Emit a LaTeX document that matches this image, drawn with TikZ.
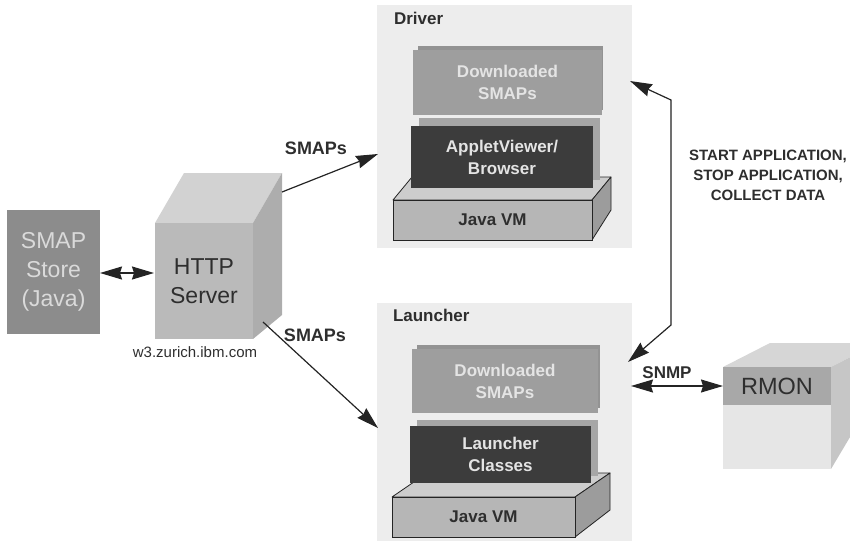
\documentclass[tikz,border=0pt]{standalone}
\usepackage{fontspec}
\setmainfont{Liberation Sans}
\usetikzlibrary{arrows.meta,calc}
\definecolor{linec}{HTML}{242424}
\definecolor{textc}{HTML}{2E2E2E}
\definecolor{panelc}{HTML}{EDEDED}
\definecolor{storec}{HTML}{8C8C8C}
\definecolor{storetext}{HTML}{DADADA}
\definecolor{httpfront}{HTML}{BABABA}
\definecolor{httptop}{HTML}{D2D2D2}
\definecolor{httpright}{HTML}{ADADAD}
\definecolor{dlc}{HTML}{9E9E9E}
\definecolor{dlback}{HTML}{939393}
\definecolor{darkc}{HTML}{3C3C3C}
\definecolor{darkback}{HTML}{A6A6A6}
\definecolor{lighttext}{HTML}{E4E4E4}
\definecolor{vmfront}{HTML}{B6B6B6}
\definecolor{vmtop}{HTML}{CDCDCD}
\definecolor{vmright}{HTML}{9C9C9C}
\definecolor{rmonband}{HTML}{A8A8A8}
\definecolor{rmonlow}{HTML}{E6E6E6}
\definecolor{rmontop}{HTML}{D6D6D6}
\definecolor{rmonright}{HTML}{C6C6C6}
\tikzset{>={Stealth[length=22pt,width=13pt,inset=2pt]}}
\begin{document}
\begin{tikzpicture}[x=1pt,y=-1pt,
  every node/.style={inner sep=0pt, outer sep=0pt},
  blk/.style={anchor=north west, align=center},
  bigtxt/.style={font=\fontsize{23}{29}\selectfont},
  midtxt/.style={font=\bfseries\fontsize{17}{22}\selectfont},
  lbl/.style={font=\bfseries\fontsize{17}{20}\selectfont, text=textc},
  arr/.style={draw=linec, line width=1.2pt, ->},
  dbl/.style={draw=linec, line width=1.2pt, <->},
  slab/.style={draw=linec, line width=0.8pt, line join=round}
]
\useasboundingbox (0,0) rectangle (850,543);
\clip (0,0) rectangle (850,543);

% SMAP store
\node[blk, fill=storec, minimum width=93pt, minimum height=124pt, text=storetext, bigtxt] (store) at (7,210) {SMAP\\Store\\(Java)};

% HTTP server cube
\fill[httptop] (155,223) -- (184,173) -- (282,173) -- (253,223) -- cycle;
\fill[httpright] (253,223) -- (282,173) -- (282,315) -- (253,339) -- cycle;
\node[blk, fill=httpfront, minimum width=98pt, minimum height=116pt, text=textc, bigtxt] (http) at (155,223) {HTTP\\Server};
\node[font=\fontsize{15}{18}\selectfont, text=textc] (host) at (195,352) {w3.zurich.ibm.com};

% Driver panel
\node[blk, fill=panelc, minimum width=255pt, minimum height=243pt] (driver) at (377,5) {};
\node[anchor=west, lbl] (drivertitle) at (394,18) {Driver};
% Java VM slab (driver)
\fill[vmtop, slab] (393,200) -- (412,177) -- (611,177) -- (592,200) -- cycle;
\fill[vmright, slab] (592,200) -- (611,177) -- (611,210) -- (592,240) -- cycle;
\node[blk, fill=vmfront, draw=linec, line width=0.8pt, minimum width=199pt, minimum height=40pt, lbl] (dvm) at (393,200) {Java VM};
% Downloaded SMAPs (driver)
\fill[dlback] (418,46) rectangle (603,110);
\node[blk, fill=dlc, minimum width=189pt, minimum height=65pt, text=lighttext, midtxt] (ddl) at (413,50) {Downloaded\\SMAPs};
% AppletViewer
\fill[darkback] (419,118) rectangle (600,180);
\node[blk, fill=darkc, minimum width=182pt, minimum height=62pt, text=lighttext, midtxt] (applet) at (411,126) {AppletViewer/\\Browser};

% Launcher panel
\node[blk, fill=panelc, minimum width=255pt, minimum height=238pt] (launcher) at (377,303) {};
\node[anchor=west, lbl] (launchertitle) at (393,315) {Launcher};
% Java VM slab (launcher)
\fill[vmtop, slab] (392,497) -- (427,473) -- (610,473) -- (575,497) -- cycle;
\fill[vmright, slab] (575,497) -- (610,473) -- (610,510) -- (575,537) -- cycle;
\node[blk, fill=vmfront, draw=linec, line width=0.8pt, minimum width=183pt, minimum height=40pt, lbl] (lvm) at (392,497) {Java VM};
% Downloaded SMAPs (launcher)
\fill[dlback] (417,345) rectangle (600,408);
\node[blk, fill=dlc, minimum width=186pt, minimum height=64pt, text=lighttext, midtxt] (ldl) at (412,349) {Downloaded\\SMAPs};
% Launcher classes
\fill[darkback] (417,420) rectangle (598,476);
\node[blk, fill=darkc, minimum width=181pt, minimum height=57pt, text=lighttext, midtxt] (lclasses) at (410,426) {Launcher\\Classes};

% RMON cube
\fill[rmontop] (723,367) -- (770,343) -- (878,343) -- (831,367) -- cycle;
\fill[rmonright] (831,367) -- (878,343) -- (878,390) -- (831,469) -- cycle;
\fill[rmonlow] (723,405) rectangle (831,469);
\node[blk, fill=rmonband, minimum width=108pt, minimum height=38pt, text=textc, font=\fontsize{23.5}{28}\selectfont] (rmon) at (723,367) {RMON};

% connector end points
\coordinate (storeE) at (100,273);
\coordinate (httpW) at (154,273);
\coordinate (httpNE) at (282,192);
\coordinate (driverW) at (378,154);
\coordinate (httpSE) at (263,322);
\coordinate (launcherW) at (378,428);
\coordinate (driverE) at (630,81);
\coordinate (bendA) at (671,100);
\coordinate (bendB) at (671,325);
\coordinate (launcherE) at (628,362);
\coordinate (snmpL) at (631,386);
\coordinate (rmonW) at (rmon.west);

% connectors
\draw[dbl] (storeE) -- (httpW);
\draw[arr] (httpNE) -- (driverW);
\draw[arr] (httpSE) -- (launcherW);
\draw[dbl] (driverE) -- (bendA) -- (bendB) -- (launcherE);
\draw[dbl] (snmpL) -- (rmonW);

% labels
\node[lbl, font=\bfseries\fontsize{18}{20}\selectfont] (smaps1) at (316,148) {SMAPs};
\node[lbl, font=\bfseries\fontsize{18}{20}\selectfont] (smaps2) at (315,335) {SMAPs};
\node[lbl] (snmp) at (667,373) {SNMP};
\node[lbl, align=center, font=\bfseries\fontsize{15}{20}\selectfont] (ctrl) at (768,175) {START APPLICATION,\\STOP APPLICATION,\\COLLECT DATA};
\end{tikzpicture}
\end{document}
